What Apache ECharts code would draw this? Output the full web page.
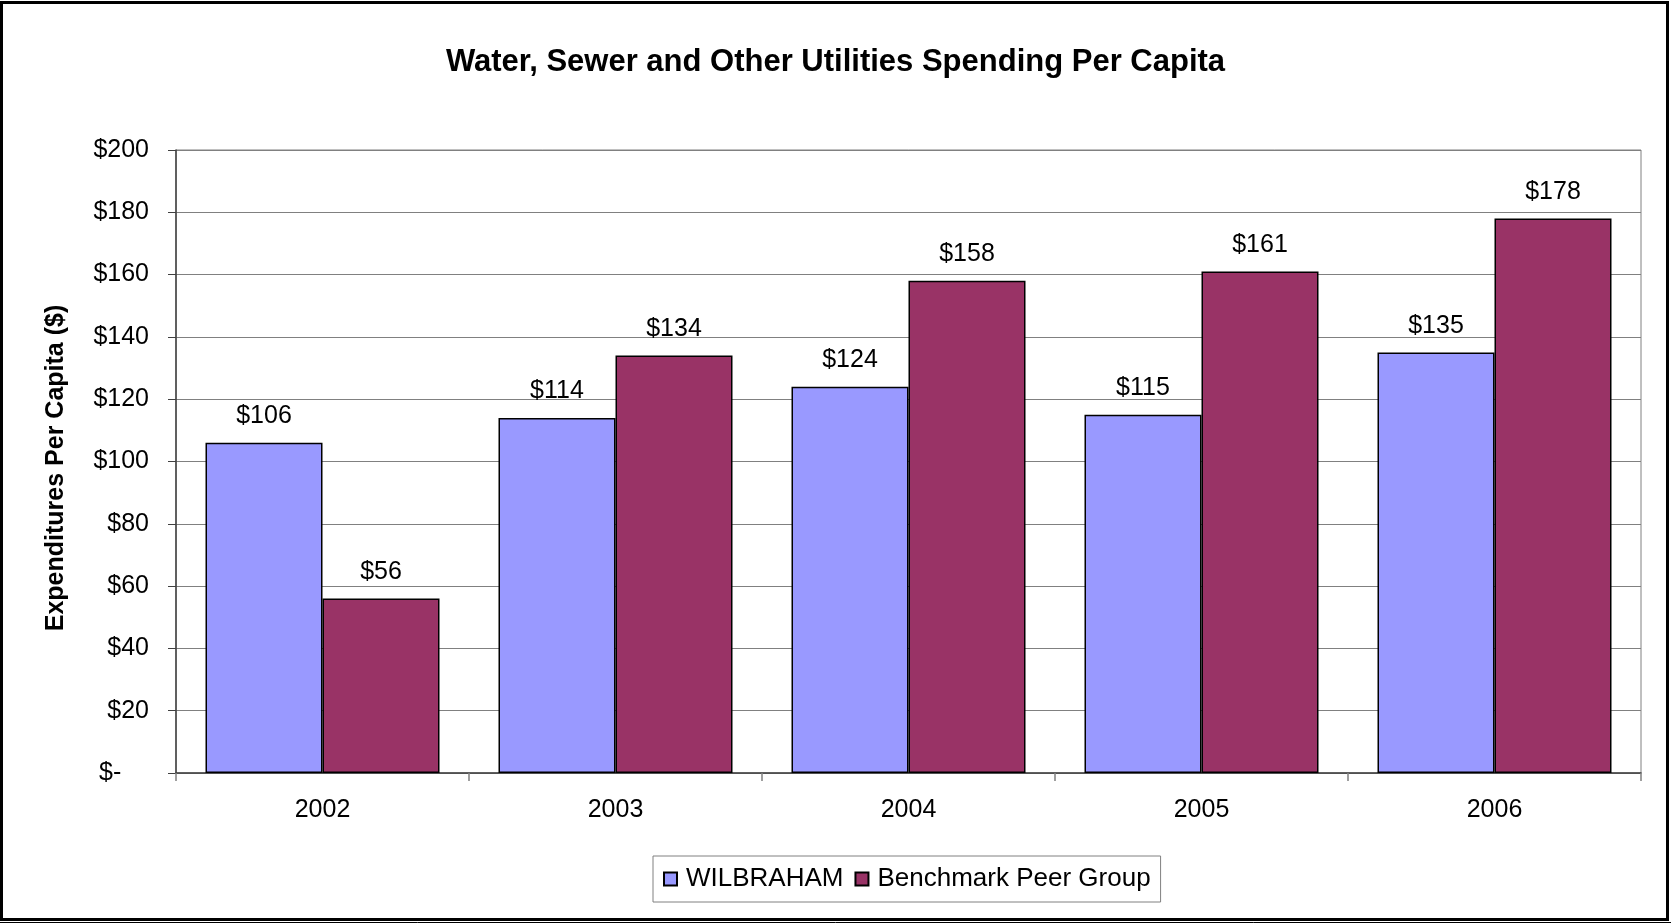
<!DOCTYPE html>
<html>
<head>
<meta charset="utf-8">
<script src="https://cdn.jsdelivr.net/npm/echarts@6/dist/echarts.min.js"></script>
<style>
  html, body { margin: 0; padding: 0; background: #fff; }
  #chart { width: 1671px; height: 923px; }
</style>
</head>
<body>
<div id="chart"></div>
<script>
// Per-capita spending on water, sewer and other utilities, by fiscal year
const years = ['2002', '2003', '2004', '2005', '2006'];
const wilbraham = [106, 114, 124, 115, 135];
const peerGroup = [56, 134, 158, 161, 178];
const seriesNames = ['WILBRAHAM', 'Benchmark Peer Group'];
const yTicks = { min: 0, max: 200, step: 20 };

const FONT = '"Liberation Sans", Arial, sans-serif';

const chart = echarts.init(document.getElementById('chart'), null, { renderer: 'canvas' });

const barLabel = {
  show: true,
  position: 'top',
  distance: 14,
  formatter: p => '$' + p.value,
  fontFamily: FONT,
  fontSize: 25,
  color: '#000'
};

chart.setOption({
  backgroundColor: '#fff',
  animation: false,
  title: {
    text: 'Water, Sewer and Other Utilities Spending Per Capita',
    left: 'center',
    top: 47,
    padding: 0,
    textStyle: { fontFamily: FONT, fontSize: 31, fontWeight: 'bold', color: '#000' }
  },
  legend: {
    data: seriesNames,
    left: 653,
    top: 856,
    orient: 'horizontal',
    padding: [10, 10, 10, 10],
    itemWidth: 13,
    itemHeight: 13,
    itemGap: 11,
    icon: 'rect',
    borderColor: '#808080',
    borderWidth: 1,
    textStyle: { fontFamily: FONT, fontSize: 26, color: '#000', padding: [0, 0, 0, 4] }
  },
  grid: {
    left: 176,
    right: 30,
    top: 150,
    bottom: 150,
    show: true,
    borderColor: '#808080',
    borderWidth: 1,
    backgroundColor: '#fff'
  },
  xAxis: {
    type: 'category',
    data: years,
    boundaryGap: true,
    axisLine: { show: true, lineStyle: { color: '#404040', width: 1.5 } },
    axisTick: { show: true, length: 8, inside: false, alignWithLabel: false, lineStyle: { color: '#808080', width: 1.5 } },
    axisLabel: { fontFamily: FONT, fontSize: 25, color: '#000', margin: 25 },
    splitLine: { show: false }
  },
  yAxis: {
    type: 'value',
    min: yTicks.min,
    max: yTicks.max,
    interval: yTicks.step,
    axisLine: { show: true, lineStyle: { color: '#404040', width: 1.5 } },
    axisTick: { show: true, length: 8, inside: false, lineStyle: { color: '#404040', width: 1 } },
    axisLabel: {
      fontFamily: FONT,
      fontSize: 25,
      color: '#000',
      margin: 27,
      formatter: v => (v === 0 ? '$-    ' : '$' + v)
    },
    splitLine: { show: true, lineStyle: { color: '#808080', width: 1.2 } }
  },
  series: [
    {
      name: seriesNames[0],
      type: 'bar',
      data: wilbraham,
      barWidth: 117,
      barGap: '0%',
      itemStyle: { color: '#9999FF', borderColor: '#000', borderWidth: 1.5 },
      label: barLabel
    },
    {
      name: seriesNames[1],
      type: 'bar',
      data: peerGroup,
      barWidth: 117,
      barGap: '0%',
      itemStyle: { color: '#993366', borderColor: '#000', borderWidth: 1.5 },
      label: barLabel
    }
  ],
  graphic: [
    {
      // vertical axis title
      type: 'text',
      silent: true,
      x: 56,
      y: 468,
      rotation: Math.PI / 2,
      style: {
        text: 'Expenditures Per Capita ($)',
        fontFamily: FONT,
        fontSize: 25,
        fontWeight: 'bold',
        fill: '#000',
        align: 'center',
        verticalAlign: 'middle'
      }
    },
    {
      type: 'rect',
      silent: true,
      z: 100,
      shape: { x: 1.5, y: 2.5, width: 1666, height: 917 },
      style: { fill: 'none', stroke: '#000', lineWidth: 3 }
    },
    {
      type: 'line',
      silent: true,
      z: 100,
      shape: { x1: 0, y1: 922.5, x2: 1671, y2: 922.5 },
      style: { stroke: '#000', lineWidth: 1 }
    }
  ]
});
</script>
</body>
</html>
